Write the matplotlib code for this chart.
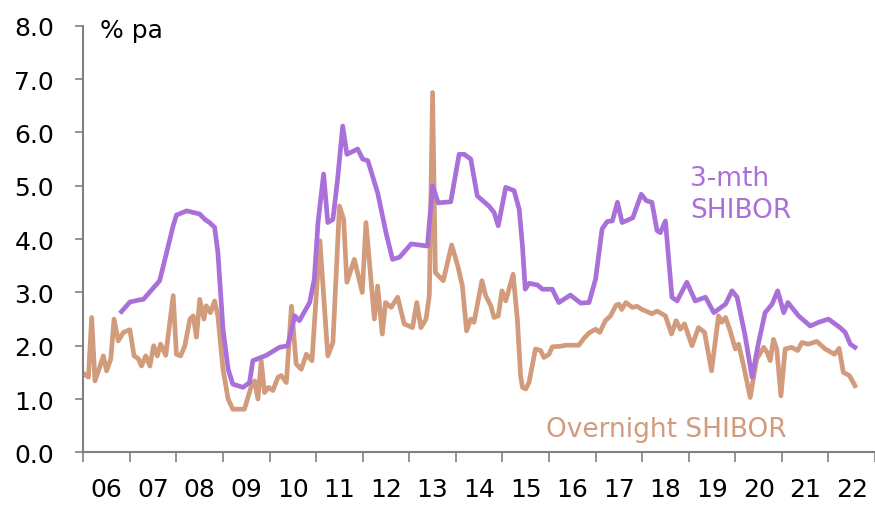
import matplotlib
matplotlib.use("Agg")
import matplotlib.pyplot as plt
import numpy as np

plt.rcParams.update({
    "font.family": ["DejaVu Sans"],
    "axes.edgecolor": "#808080",
})

# 3-mth SHIBOR (decimal year, % pa)
m3_year = [2006.82, 2007.00, 2007.21, 2007.29, 2007.64, 2007.93, 2008.00, 2008.22,
           2008.50, 2008.61, 2008.71, 2008.82, 2008.89, 2009.00, 2009.11, 2009.21,
           2009.43, 2009.57, 2009.64, 2009.93, 2010.21, 2010.39, 2010.54, 2010.64,
           2010.86, 2010.96, 2011.04, 2011.16, 2011.25, 2011.36, 2011.46, 2011.57,
           2011.66, 2011.89, 2012.00, 2012.11, 2012.32, 2012.50, 2012.64, 2012.79,
           2013.04, 2013.39, 2013.50, 2013.62, 2013.89, 2014.07, 2014.18, 2014.32,
           2014.46, 2014.71, 2014.82, 2014.91, 2015.07, 2015.25, 2015.36, 2015.43,
           2015.49, 2015.57, 2015.75, 2015.86, 2016.07, 2016.21, 2016.46, 2016.68,
           2016.86, 2017.00, 2017.14, 2017.25, 2017.36, 2017.47, 2017.57, 2017.80,
           2017.98, 2018.09, 2018.21, 2018.32, 2018.39, 2018.50, 2018.64, 2018.75,
           2018.96, 2019.14, 2019.36, 2019.54, 2019.79, 2019.93, 2020.04, 2020.21,
           2020.36, 2020.50, 2020.64, 2020.79, 2020.91, 2021.04, 2021.13, 2021.36,
           2021.61, 2021.79, 2022.00, 2022.25, 2022.36, 2022.47, 2022.57]
m3_rate = [2.64, 2.82, 2.86, 2.87, 3.22, 4.25, 4.45, 4.53,
           4.47, 4.37, 4.31, 4.22, 3.75, 2.31, 1.56, 1.28,
           1.22, 1.31, 1.72, 1.82, 1.97, 2.00, 2.56, 2.47,
           2.81, 3.25, 4.31, 5.22, 4.31, 4.37, 5.12, 6.12,
           5.59, 5.69, 5.50, 5.47, 4.87, 4.12, 3.62, 3.66,
           3.91, 3.87, 5.00, 4.68, 4.70, 5.59, 5.59, 5.50,
           4.81, 4.62, 4.50, 4.25, 4.97, 4.91, 4.56, 3.87,
           3.06, 3.17, 3.14, 3.06, 3.06, 2.81, 2.95, 2.80,
           2.81, 3.25, 4.19, 4.33, 4.34, 4.69, 4.31, 4.40,
           4.84, 4.72, 4.69, 4.16, 4.12, 4.34, 2.91, 2.84,
           3.19, 2.84, 2.91, 2.62, 2.78, 3.03, 2.91, 2.19,
           1.41, 2.06, 2.62, 2.78, 3.03, 2.62, 2.81, 2.56,
           2.37, 2.44, 2.50, 2.34, 2.25, 2.03, 1.97]

# Overnight SHIBOR
on_year = [2006.02, 2006.11, 2006.18, 2006.25, 2006.36, 2006.43, 2006.50, 2006.59,
           2006.66, 2006.75, 2006.86, 2007.00, 2007.09, 2007.18, 2007.25, 2007.34,
           2007.43, 2007.51, 2007.59, 2007.66, 2007.77, 2007.93, 2008.00, 2008.09,
           2008.18, 2008.29, 2008.36, 2008.43, 2008.50, 2008.59, 2008.64, 2008.73,
           2008.82, 2008.89, 2009.00, 2009.11, 2009.21, 2009.46, 2009.61, 2009.68,
           2009.75, 2009.82, 2009.89, 2009.98, 2010.07, 2010.18, 2010.25, 2010.36,
           2010.47, 2010.57, 2010.68, 2010.79, 2010.91, 2011.08, 2011.25, 2011.36,
           2011.50, 2011.59, 2011.66, 2011.82, 2011.99, 2012.07, 2012.25, 2012.32,
           2012.42, 2012.49, 2012.61, 2012.75, 2012.89, 2013.07, 2013.16, 2013.25,
           2013.36, 2013.43, 2013.50, 2013.56, 2013.73, 2013.91, 2014.04, 2014.14,
           2014.23, 2014.32, 2014.39, 2014.56, 2014.64, 2014.75, 2014.82, 2014.91,
           2014.99, 2015.07, 2015.23, 2015.32, 2015.39, 2015.43, 2015.50, 2015.57,
           2015.71, 2015.82, 2015.89, 2016.00, 2016.07, 2016.25, 2016.36, 2016.64,
           2016.75, 2016.86, 2017.00, 2017.09, 2017.21, 2017.32, 2017.44, 2017.50,
           2017.56, 2017.65, 2017.79, 2017.89, 2018.00, 2018.21, 2018.32, 2018.50,
           2018.63, 2018.73, 2018.82, 2018.91, 2019.07, 2019.21, 2019.34, 2019.49,
           2019.64, 2019.71, 2019.79, 2019.89, 2020.00, 2020.07, 2020.18, 2020.32,
           2020.46, 2020.61, 2020.68, 2020.75, 2020.82, 2020.89, 2020.98, 2021.07,
           2021.21, 2021.34, 2021.43, 2021.57, 2021.75, 2021.93, 2022.13, 2022.23,
           2022.32, 2022.45, 2022.57]
on_rate = [1.47, 1.41, 2.53, 1.34, 1.62, 1.81, 1.53, 1.75,
           2.50, 2.09, 2.25, 2.30, 1.81, 1.76, 1.62, 1.81,
           1.62, 2.00, 1.81, 2.03, 1.82, 2.94, 1.84, 1.81,
           2.00, 2.50, 2.56, 2.16, 2.87, 2.50, 2.75, 2.62,
           2.84, 2.56, 1.56, 1.00, 0.81, 0.81, 1.25, 1.34,
           1.00, 1.72, 1.12, 1.22, 1.16, 1.41, 1.44, 1.31,
           2.74, 1.66, 1.56, 1.84, 1.72, 3.97, 1.81, 2.06,
           4.62, 4.37, 3.19, 3.62, 3.00, 4.31, 2.50, 3.12,
           2.22, 2.81, 2.72, 2.91, 2.41, 2.34, 2.81, 2.34,
           2.50, 2.94, 6.75, 3.37, 3.22, 3.89, 3.50, 3.12,
           2.28, 2.50, 2.44, 3.22, 2.94, 2.75, 2.53, 2.56,
           3.03, 2.84, 3.34, 2.50, 1.44, 1.22, 1.19, 1.31,
           1.94, 1.91, 1.78, 1.84, 1.98, 1.99, 2.01, 2.01,
           2.14, 2.24, 2.31, 2.25, 2.47, 2.56, 2.76, 2.78,
           2.68, 2.81, 2.72, 2.74, 2.68, 2.60, 2.65, 2.56,
           2.22, 2.47, 2.31, 2.41, 2.00, 2.34, 2.25, 1.53,
           2.56, 2.44, 2.53, 2.28, 1.94, 2.03, 1.62, 1.03,
           1.75, 1.97, 1.88, 1.72, 2.12, 1.94, 1.06, 1.94,
           1.97, 1.91, 2.06, 2.03, 2.08, 1.94, 1.84, 1.95,
           1.50, 1.44, 1.25]

years = list(range(2006, 2023))
year_labels = [f"{y % 100:02d}" for y in years]

PURPLE = "#AA70D9"
TAN = "#D19B7C"
FS = 18

fig = plt.figure(figsize=(8.75, 5.06), dpi=100)
ax = fig.add_axes([0.0952, 0.104, 0.9048, 0.843])

ax.plot(on_year, on_rate, color=TAN, lw=3.4, solid_joinstyle="round")
ax.plot(m3_year, m3_rate, color=PURPLE, lw=3.4, solid_joinstyle="round")

ax.set_xlim(2006, 2023)
ax.set_ylim(0, 8)
ax.set_yticks(np.arange(0, 8.1, 1.0))
ax.set_yticklabels([f"{v:.1f}" for v in np.arange(0, 8.1, 1.0)])

ax.set_xticks(range(2006, 2024))
ax.set_xticklabels([])
ax.set_xticks([y + 0.5 for y in years], minor=True)
ax.set_xticklabels(year_labels, minor=True)

ax.tick_params(axis="y", direction="out", length=6, width=1.2, color="#808080",
               labelsize=FS, pad=15)
ax.tick_params(axis="x", which="major", direction="out", length=7, width=1.2,
               color="#808080")
ax.tick_params(axis="x", which="minor", length=0, labelsize=FS, pad=18)

for s in ("top", "right"):
    ax.spines[s].set_visible(False)
for s in ("left", "bottom"):
    ax.spines[s].set_linewidth(1.5)

ax.text(2006.36, 7.92, "% pa", fontsize=FS, va="center", ha="left")
ax.text(2019.03, 4.84, "3-mth\nSHIBOR", fontsize=FS + 1, color=PURPLE,
        va="center", ha="left", linespacing=1.3)
ax.text(2018.52, 0.44, "Overnight SHIBOR", fontsize=FS + 1, color=TAN,
        va="center", ha="center")

fig.savefig("out.png", dpi=100)
